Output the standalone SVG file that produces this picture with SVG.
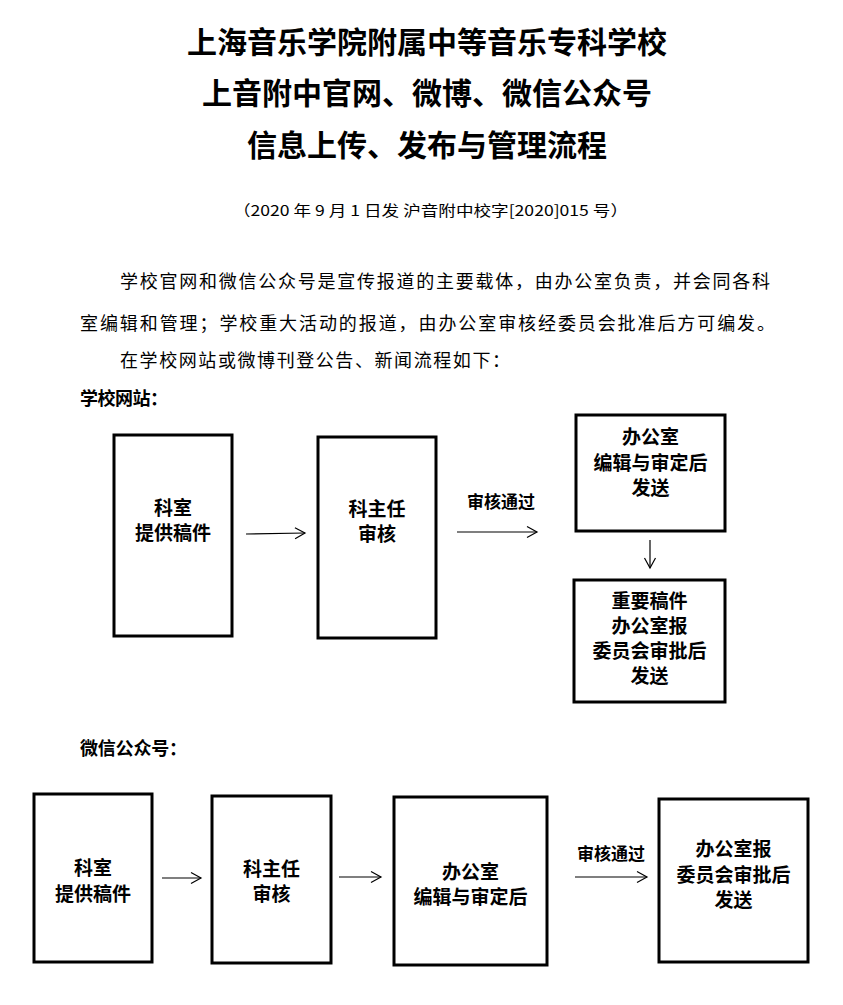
<svg xmlns="http://www.w3.org/2000/svg" width="843" height="1005" viewBox="0 0 843 1005">
<style>
text{font-family:"Noto Sans CJK SC","Liberation Serif",serif;fill:#000}
.title{font-size:30px;font-weight:bold;text-anchor:middle}
.para{font-size:18px}
.sub{font-size:15px}
.head{font-size:18px;font-weight:bold}
.box{fill:#fff;stroke:#000;stroke-width:3}
.bt{font-size:19px;font-weight:bold;text-anchor:middle}
.lbl{font-size:17px;font-weight:bold;text-anchor:middle}
.arr{stroke:#000;stroke-width:1.2;fill:none;marker-end:url(#ah)}
</style>
<defs>
<marker id="ah" markerUnits="userSpaceOnUse" markerWidth="14" markerHeight="14" refX="11" refY="7" orient="auto">
<polyline points="1,1.5 11,7 1,12.5" fill="none" stroke="#000" stroke-width="1.2"/>
</marker>
</defs>
<rect width="843" height="1005" fill="#fff"/>
<g id="titles">
<text class="title" x="427" y="53">上海音乐学院附属中等音乐专科学校</text>
<text class="title" x="427" y="104">上音附中官网、微博、微信公众号</text>
<text class="title" x="427" y="156">信息上传、发布与管理流程</text>
<text class="sub" x="233" y="216" textLength="395" lengthAdjust="spacingAndGlyphs">（2020 年 9 月 1 日发 沪音附中校字[2020]015 号）</text>
<text class="para" x="120" y="288" textLength="650" lengthAdjust="spacing">学校官网和微信公众号是宣传报道的主要载体，由办公室负责，并会同各科</text>
<text class="para" x="80" y="330" textLength="695" lengthAdjust="spacing">室编辑和管理；学校重大活动的报道，由办公室审核经委员会批准后方可编发。</text>
<text class="para" x="120" y="367" textLength="390" lengthAdjust="spacing">在学校网站或微博刊登公告、新闻流程如下：</text>
<text class="head" x="80" y="405" textLength="88" lengthAdjust="spacing">学校网站：</text>
<text class="head" x="80" y="755" textLength="107" lengthAdjust="spacing">微信公众号：</text>
</g>
<g id="connectors">
<line class="arr" x1="246" y1="534" x2="305" y2="533"/>
<line class="arr" x1="457" y1="532" x2="537" y2="532"/>
<text class="lbl" x="501" y="508">审核通过</text>
<line class="arr" x1="650" y1="540" x2="650" y2="568"/>
<line class="arr" x1="162" y1="878" x2="201" y2="878"/>
<line class="arr" x1="339" y1="877" x2="381" y2="877"/>
<line class="arr" x1="575" y1="877" x2="647" y2="877"/>
<text class="lbl" x="611" y="860">审核通过</text>
</g>
<g id="w1">
<rect class="box" x="114" y="435" width="118" height="201"/>
<text class="bt" x="173" y="515">科室</text>
<text class="bt" x="173" y="540">提供稿件</text>
</g>
<g id="w2">
<rect class="box" x="318" y="437" width="118" height="201"/>
<text class="bt" x="377" y="516">科主任</text>
<text class="bt" x="377" y="541">审核</text>
</g>
<g id="w3">
<rect class="box" x="576" y="415" width="149" height="116"/>
<text class="bt" x="650.5" y="444">办公室</text>
<text class="bt" x="650.5" y="470">编辑与审定后</text>
<text class="bt" x="650.5" y="495">发送</text>
</g>
<g id="w4">
<rect class="box" x="574" y="580" width="151" height="122"/>
<text class="bt" x="649.5" y="608">重要稿件</text>
<text class="bt" x="649.5" y="633">办公室报</text>
<text class="bt" x="649.5" y="658">委员会审批后</text>
<text class="bt" x="649.5" y="683">发送</text>
</g>
<g id="c1">
<rect class="box" x="34" y="794" width="118" height="168"/>
<text class="bt" x="93" y="875">科室</text>
<text class="bt" x="93" y="901">提供稿件</text>
</g>
<g id="c2">
<rect class="box" x="212" y="796" width="119" height="167"/>
<text class="bt" x="271.5" y="876">科主任</text>
<text class="bt" x="271.5" y="901">审核</text>
</g>
<g id="c3">
<rect class="box" x="394" y="797" width="153" height="168"/>
<text class="bt" x="470.5" y="879">办公室</text>
<text class="bt" x="470.5" y="904">编辑与审定后</text>
</g>
<g id="c4">
<rect class="box" x="659" y="799" width="149" height="163"/>
<text class="bt" x="733.5" y="856">办公室报</text>
<text class="bt" x="733.5" y="882">委员会审批后</text>
<text class="bt" x="733.5" y="907">发送</text>
</g>
</svg>
